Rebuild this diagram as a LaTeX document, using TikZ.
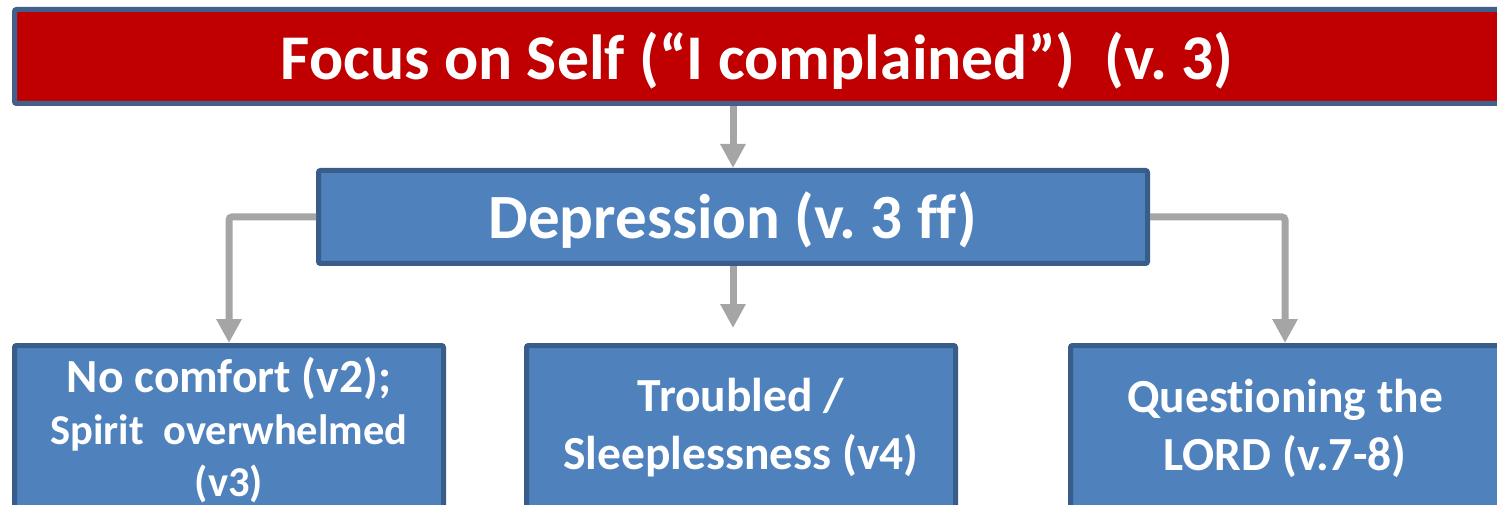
\documentclass[tikz,border=0pt]{standalone}
\usepackage{fontspec}
\setmainfont[Ligatures={NoCommon}]{Carlito}
\usetikzlibrary{arrows.meta}
\definecolor{topred}{HTML}{C00000}
\definecolor{topedge}{HTML}{41618C}
\definecolor{bluefill}{HTML}{4F81BD}
\definecolor{blueedge}{HTML}{385D8A}
\definecolor{arrowgray}{HTML}{A5A5A5}
\tikzset{
  redbox/.style={draw=topedge, fill=topred, line width=5pt, rounded corners=2pt, inner sep=0pt},
  bluebox/.style={draw=blueedge, fill=bluefill, line width=5pt, rounded corners=2pt, inner sep=0pt},
  txt/.style={text=white, align=center, inner sep=0pt},
  conn/.style={draw=arrowgray, line width=7pt, -{Triangle[width=24pt,length=24pt]}}
}
\begin{document}
\frenchspacing
\begin{tikzpicture}[x=1pt,y=-1pt]
\useasboundingbox (0,0) rectangle (1497,505);
\clip (0,0) rectangle (1497,505);
\node[redbox, minimum width=1485pt, minimum height=94pt] (top) at (757,56.5) {};
\node[txt, font=\bfseries\fontsize{63.7}{70}\selectfont] (toptxt) at (757,61) {Focus on Self (“I complained”)\ \ (v. 3)};
\node[bluebox, minimum width=829pt, minimum height=93pt] (dep) at (733,217) {};
\node[txt, font=\bfseries\fontsize{63}{70}\selectfont] (deptxt) at (733,220) {Depression (v. 3 ff)};
\node[bluebox, minimum width=429pt, minimum height=252pt] (left) at (229,471.5) {};
\node[bluebox, minimum width=429pt, minimum height=252pt] (mid) at (741,471.5) {};
\node[bluebox, minimum width=429pt, minimum height=252pt] (right) at (1285,471.5) {};
\node[txt, font=\bfseries\fontsize{42.5}{52}\selectfont] (lefttxt) at (229,430) {{\fontsize{47.5}{52}\selectfont No comfort (v2);}\\Spirit\ \ overwhelmed\\(v3)};
\node[txt, font=\bfseries\fontsize{47.5}{58}\selectfont] (midtxt) at (741,428) {Troubled /\\Sleeplessness (v4)};
\node[txt, font=\bfseries\fontsize{47.5}{58}\selectfont] (righttxt) at (1285,428) {Questioning the\\LORD (v.7-8)};
\coordinate (midend) at (733,328);
\draw[conn] (dep.north |- top.south) -- (dep.north);
\draw[conn] (dep.south) -- (midend);
\draw[conn, rounded corners=3pt] (dep.west) -| (left.north);
\draw[conn, rounded corners=3pt] (dep.east) -| (right.north);
\end{tikzpicture}
\end{document}
